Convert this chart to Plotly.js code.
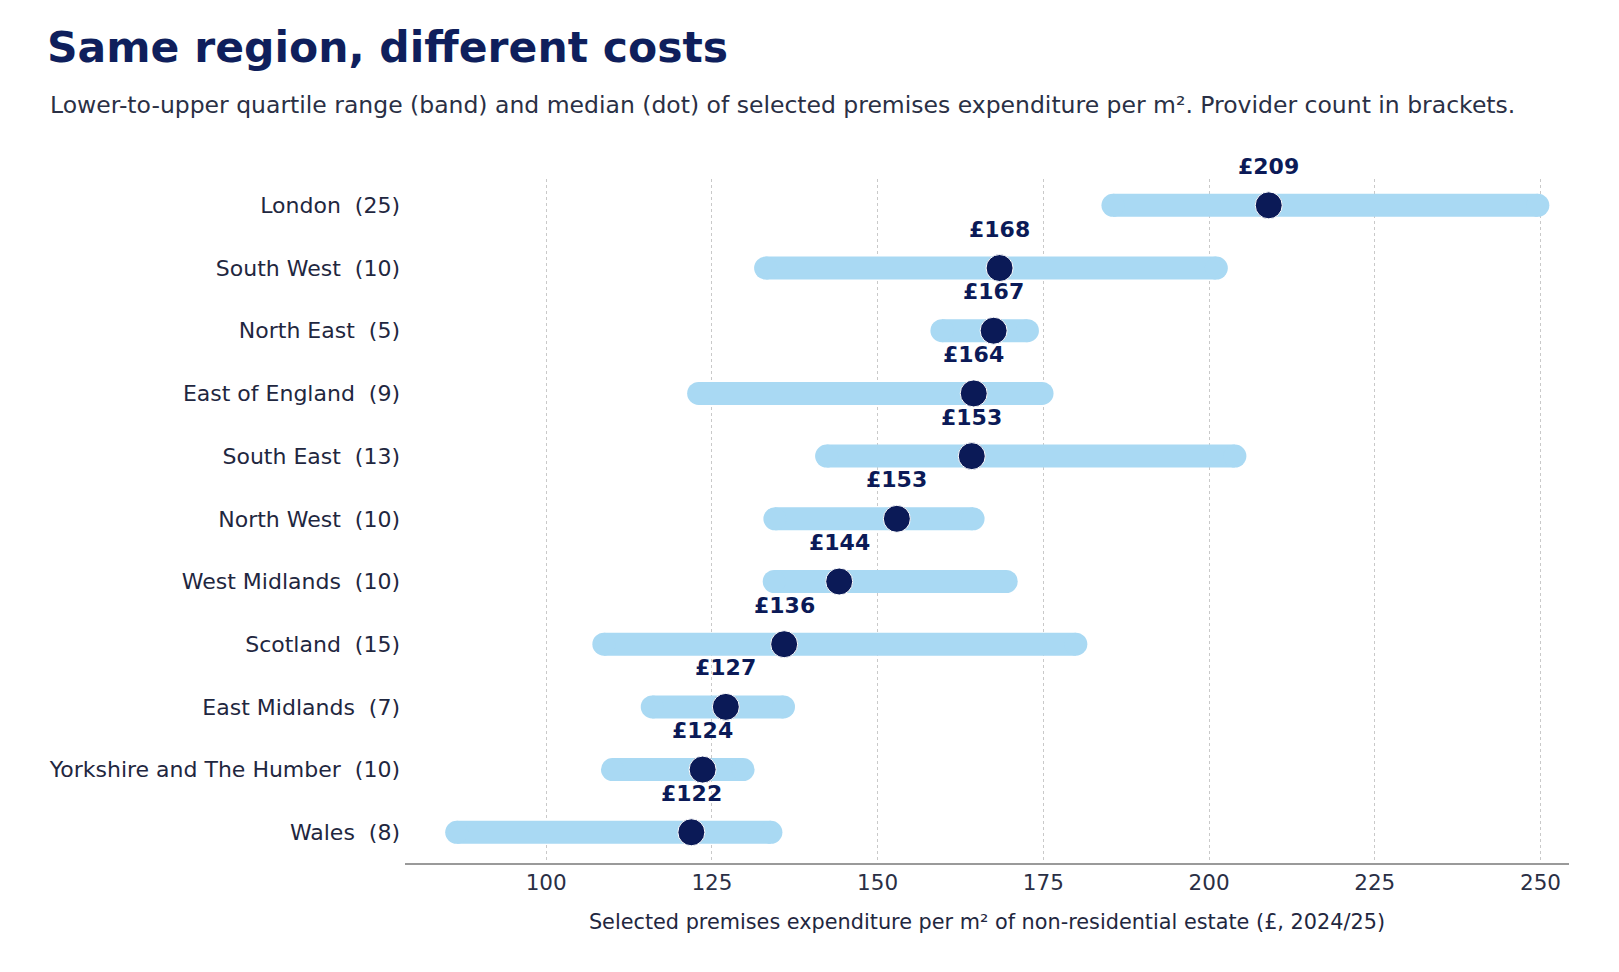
<!DOCTYPE html>
<html>
<head>
<meta charset="utf-8">
<script src="https://cdn.plot.ly/plotly-3.0.1.min.js"></script>
<style>
  html, body { margin: 0; padding: 0; background: #ffffff; }
  #chart { width: 1619px; height: 972px; }
</style>
</head>
<body>
<div id="chart"></div>
<script>
// regions, top to bottom, with provider counts
const regions = [
  "London", "South West", "North East", "East of England", "South East",
  "North West", "West Midlands", "Scotland", "East Midlands",
  "Yorkshire and The Humber", "Wales"
];
const providers = [25, 10, 5, 9, 13, 10, 10, 15, 7, 10, 8];

// lower quartile, upper quartile and median (£ per m²)
const lowerQ = [185.5, 133.1, 159.7, 123.0, 142.3, 134.5, 134.4, 108.7, 116.0, 110.0, 86.5];
const upperQ = [249.6, 201.1, 172.6, 174.8, 203.9, 164.4, 169.4, 179.9, 135.8, 129.7, 133.9];
const medians = [209, 168.4, 167.5, 164.5, 164.2, 152.9, 144.2, 135.9, 127.1, 123.6, 121.9];

// median labels as printed on the chart
const medianLabels = ["£209", "£168", "£167", "£164", "£153", "£153", "£144", "£136", "£127", "£124", "£122"];

const xTicks = [100, 125, 150, 175, 200, 225, 250];

const NAVY = "#0b1a57";
const BAND = "#a9d9f3";
const FONT = "DejaVu Sans, sans-serif";

// category labels with the count in brackets
const yLabels = regions.map((r, i) => r + "\u00a0\u00a0(" + providers[i] + ")");

// band segments: lo -> hi, separated by gaps
let bandX = [];
let bandY = [];
regions.forEach((r, i) => {
  bandX.push(lowerQ[i], upperQ[i], null);
  bandY.push(yLabels[i], yLabels[i], null);
});

const bands = {
  type: "scatter",
  mode: "lines+markers",
  x: bandX,
  y: bandY,
  line: { color: BAND, width: 23 },
  marker: { color: BAND, size: 23, symbol: "circle" },
  hoverinfo: "skip",
  showlegend: false,
  cliponaxis: false,
};

const dots = {
  type: "scatter",
  mode: "markers",
  x: medians,
  y: yLabels,
  marker: { color: NAVY, size: 27, line: { color: "#ffffff", width: 1 } },
  showlegend: false,
  cliponaxis: false,
};

// value labels above each dot
const labelNotes = medianLabels.map((t, i) => ({
  x: medians[i],
  y: yLabels[i],
  xref: "x",
  yref: "y",
  text: t,
  showarrow: false,
  yshift: 39,
  font: { family: FONT, size: 22, color: NAVY, weight: 700 },
}));

const layout = {
  width: 1619,
  height: 972,
  paper_bgcolor: "#ffffff",
  plot_bgcolor: "#ffffff",
  margin: { l: 405, r: 50, t: 179, b: 109 },
  font: { family: FONT, color: "#1f2740" },
  title: {
    text: "<b>Same region, different costs</b>",
    font: { family: FONT, size: 42.5, color: "#0f1f5c" },
    xref: "container",
    yref: "container",
    x: 47 / 1619,
    xanchor: "left",
    y: 1 - 47 / 972,
    yanchor: "middle",
  },
  xaxis: {
    range: [78.7, 254.3],
    tickvals: xTicks,
    ticks: "",
    showgrid: true,
    gridcolor: "#c9c9c9",
    griddash: "dot",
    gridwidth: 1,
    zeroline: false,
    showline: true,
    linecolor: "#9a9a9a",
    linewidth: 1.5,
    tickfont: { family: FONT, size: 21.5, color: "#2a2f45" },
    title: {
      text: "Selected premises expenditure per m² of non-residential estate (£, 2024/25)",
      font: { family: FONT, size: 20.8, color: "#1f2740" },
      standoff: 20,
    },
  },
  yaxis: {
    type: "category",
    categoryarray: yLabels,
    range: [10.49, -0.42],
    showgrid: false,
    zeroline: false,
    showline: false,
    ticks: "",
    tickfont: { family: FONT, size: 22, color: "#1f2740" },
    ticklabelstandoff: 4,
  },
  annotations: [
    {
      xref: "paper",
      yref: "paper",
      x: (47.5 - 405) / 1164,
      xanchor: "left",
      y: 1 + (179 - 105) / 684,
      yanchor: "middle",
      text: "Lower-to-upper quartile range (band) and median (dot) of selected premises expenditure per m². Provider count in brackets.",
      showarrow: false,
      font: { family: FONT, size: 23.5, color: "#2a3045" },
    },
  ].concat(labelNotes),
};

Plotly.newPlot("chart", [bands, dots], layout, { displayModeBar: false, staticPlot: true });
</script>
</body>
</html>
